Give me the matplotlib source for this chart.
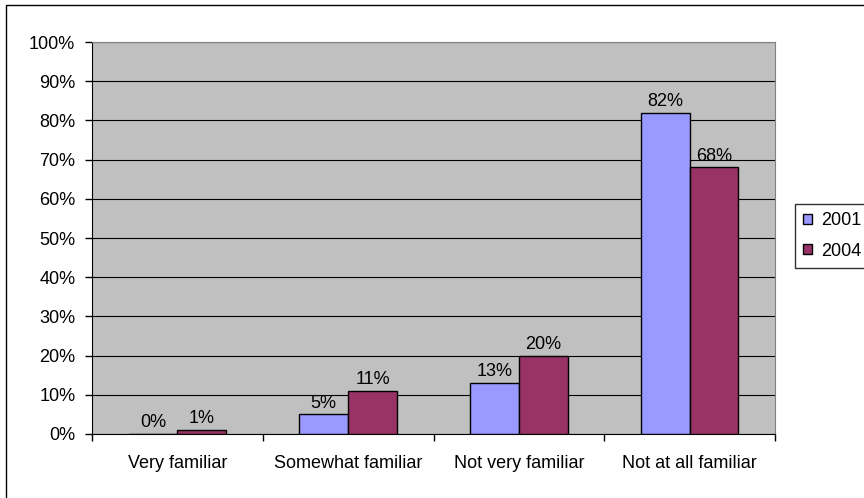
import matplotlib
matplotlib.use("Agg")
import matplotlib.pyplot as plt
from matplotlib.patches import Rectangle, Patch
from matplotlib.ticker import MultipleLocator, PercentFormatter

categories = ["Very familiar", "Somewhat familiar", "Not very familiar", "Not at all familiar"]
years = ["2001", "2004"]
values_2001 = [0, 5, 13, 82]
values_2004 = [1, 11, 20, 68]
colors = ["#9999FF", "#993366"]

plt.rcParams["font.family"] = ["Liberation Sans", "DejaVu Sans"]
plt.rcParams["font.size"] = 13

W, H = 864, 498
fig = plt.figure(figsize=(W / 100, H / 100), dpi=100)

# outer chart border (runs off the right and bottom edges)
fig.patches.append(Rectangle((5.5 / W, -0.1), 1.2, 1 - 5.5 / H + 0.1,
                             transform=fig.transFigure, fill=False,
                             edgecolor="black", linewidth=1.0))

left, right, top, bottom = 92, 775, 42, 434
ax = fig.add_axes([left / W, 1 - bottom / H, (right - left) / W, (bottom - top) / H])
ax.set_facecolor("#C0C0C0")

x = list(range(len(categories)))
width = 1 / 3.5
b1 = ax.bar([i - width / 2 for i in x], values_2001, width, color=colors[0],
            edgecolor="black", linewidth=1.0, label=years[0], zorder=3)
b2 = ax.bar([i + width / 2 for i in x], values_2004, width, color=colors[1],
            edgecolor="black", linewidth=1.0, label=years[1], zorder=3)
for bars, vals in ((b1, values_2001), (b2, values_2004)):
    ax.bar_label(bars, labels=["%d%%" % v for v in vals], padding=2, fontsize=13)

ax.set_xlim(-0.5, len(categories) - 0.5)
ax.set_ylim(0, 100)
ax.yaxis.set_major_locator(MultipleLocator(10))
ax.yaxis.set_major_formatter(PercentFormatter(decimals=0))
ax.yaxis.grid(True, color="black", linewidth=0.8, zorder=1)
ax.set_axisbelow(True)

# category ticks sit between the groups
ax.set_xticks([i - 0.5 for i in range(len(categories) + 1)])
ax.set_xticklabels([])
ax.set_xticks(x, minor=True)
ax.set_xticklabels(categories, minor=True)
ax.tick_params(axis="x", which="minor", length=0, pad=15)
ax.tick_params(axis="x", which="major", length=5, width=1, color="black")
ax.tick_params(axis="y", length=5, width=1, pad=7)

for s in ("top", "right"):
    ax.spines[s].set_color("#808080")
for s in ("left", "bottom"):
    ax.spines[s].set_color("black")

handles = [Patch(facecolor=colors[0], edgecolor="black", label=years[0]),
           Patch(facecolor=colors[1], edgecolor="black", label=years[1])]
leg = fig.legend(handles=handles, loc="upper left",
                 bbox_to_anchor=(795 / W, 1 - 204 / H), frameon=True,
                 fancybox=False, edgecolor="black", handlelength=0.5,
                 handleheight=0.5, handletextpad=0.5, borderpad=0.45,
                 labelspacing=0.75, borderaxespad=0, fontsize=13)
leg.get_frame().set_linewidth(1.0)

fig.savefig("out.png", dpi=100, facecolor="white")
